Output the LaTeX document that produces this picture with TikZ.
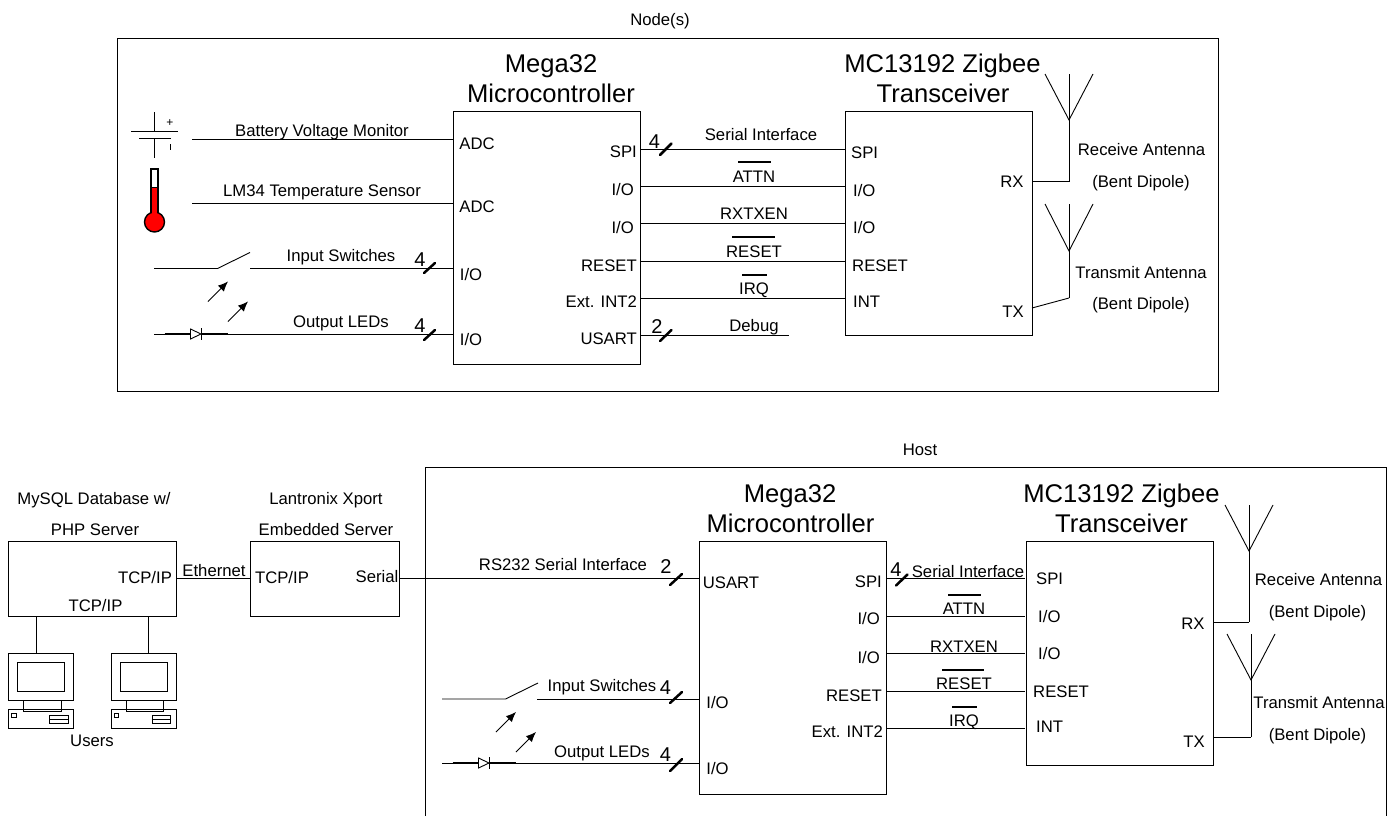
\documentclass[tikz,border=0pt]{standalone}
\usepackage{fontspec}
\setmainfont{Liberation Sans}
\usetikzlibrary{arrows.meta}
\tikzset{
  x=1pt,y=-1pt,
  wire/.style={line width=0.9pt,draw=black},
  box/.style={wire,fill=none},
  lab/.style={inner sep=0pt,yshift=-1.5pt,font=\fontsize{16.7}{18}\selectfont,text height=12pt,text depth=3.4pt},
  big/.style={inner sep=0pt,font=\fontsize{25.6}{28}\selectfont,text height=18.5pt,text depth=5pt},
  num/.style={inner sep=0pt,font=\fontsize{20}{22}\selectfont},
  slash/.style={line width=2.5pt,line cap=round},
  thick wire/.style={line width=1.4pt},
  lightarrow/.style={line width=0.9pt,-{Latex[length=10pt,width=8.5pt]}},
}
\newcommand{\rect}[5]{\node[box,draw,minimum width=#4 pt-#2 pt,minimum height=#5 pt-#3 pt,inner sep=0pt,anchor=north west] (#1) at (#2,#3) {};}
\newcommand{\wireto}[5]{\coordinate (#1a) at (#2,#3); \coordinate (#1b) at (#4,#5); \draw[wire] (#1a) -- (#1b);}
\newcommand{\slashmark}[5]{\coordinate (#1a) at (#2,#3); \coordinate (#1b) at (#4,#5); \draw[slash] (#1a) -- (#1b);}
\newcommand{\overbar}[4]{\coordinate (#1a) at (#2,#4); \coordinate (#1b) at (#3,#4); \draw[wire,line width=1.1pt] (#1a) -- (#1b);}
% switch + led group: origin x, switch y, led y
\newcommand{\swled}[4]{%
  \begin{scope}[shift={(#2,#3)}]
  \coordinate (#1s0) at (0,0); \coordinate (#1s1) at (63.5,0); \coordinate (#1s2) at (96,-16); 
  \draw[wire] (#1s0) -- (#1s1) -- (#1s2);
  \coordinate (#1ar1a) at (54,33); \coordinate (#1ar1b) at (74,13);
  \coordinate (#1ar2a) at (74,53); \coordinate (#1ar2b) at (94,33);
  \draw[lightarrow] (#1ar1a) -- (#1ar1b);
  \draw[lightarrow] (#1ar2a) -- (#1ar2b);
  \end{scope}
  \begin{scope}[shift={(#2,#4)}]
  \coordinate (#1l0) at (0,0); \coordinate (#1l1) at (10.5,0); \coordinate (#1l2) at (36.5,0);
  \coordinate (#1l3) at (47.5,0); \coordinate (#1l4) at (73.5,0);
  \draw[wire] (#1l0) -- (#1l1);
  \draw[thick wire] (#1l1) -- (#1l2);
  \draw[thick wire] (#1l3) -- (#1l4);
  \draw[wire,fill=white] (36.5,-5) -- (47,0) -- (36.5,5) -- cycle;
  \draw[wire] (47.5,-6) -- (47.5,6);
  \end{scope}}
% antenna: name, x, top y, apex y, bottom y
\newcommand{\antenna}[5]{%
  \coordinate (#1top) at (#2,#3); \coordinate (#1apex) at (#2,#4); \coordinate (#1bot) at (#2,#5);
  \coordinate (#1l) at (#2-24,#3); \coordinate (#1r) at (#2+24,#3);
  \draw[wire] (#1l) -- (#1apex) -- (#1r);
  \draw[wire] (#1top) -- (#1bot);}
% PC: name, x offset
\newcommand{\pc}[2]{%
  \begin{scope}[shift={(#2,0)}]
  \rect{#1mon}{8}{653}{73}{699.5}
  \rect{#1scr}{17}{662}{64}{690.5}
  \rect{#1neck}{23}{699.5}{60.5}{711}
  \rect{#1base}{8}{709}{73}{728}
  \rect{#1led}{11}{713}{15.5}{717}
  \rect{#1drv}{49}{714.5}{67.5}{722.5}
  \draw[wire] (#1drv.west) -- (#1drv.east);
  \end{scope}}
\begin{document}
\begin{tikzpicture}
\useasboundingbox (0,0) rectangle (1396,816);
% ---------- NODE ----------
\rect{nodeframe}{117}{38}{1218}{391}
\node[lab] (nodetitle) at (660,19.5) {Node(s)};
\rect{megaA}{453}{111}{640}{364}
\rect{mcA}{845}{111}{1032}{335}
\node[big] (megaAa) at (551,65.5) {Mega32};
\node[big] (megaAb) at (551,96) {Microcontroller};
\node[big] (mcAa) at (942.5,65.5) {MC13192 Zigbee};
\node[big] (mcAb) at (943,96) {Transceiver};
% battery
\coordinate (bt1) at (154.5,112); \coordinate (bt2) at (154.5,131);
\coordinate (bt3) at (154.5,138); \coordinate (bt4) at (154.5,158);
\coordinate (bp1) at (131,131); \coordinate (bp2) at (178,131);
\coordinate (bp3) at (139,138); \coordinate (bp4) at (171,138);
\draw[wire] (bt1) -- (bt2); \draw[wire] (bt3) -- (bt4);
\draw[wire] (bp1) -- (bp2); \draw[wire] (bp3) -- (bp4);
\node[inner sep=0pt,font=\fontsize{12}{12}\selectfont] (bplus) at (170,123) {+};
\coordinate (bm1) at (170,144); \coordinate (bm2) at (170,150);
\draw[wire] (bm1) -- (bm2);
% thermometer
\fill[red] (151,187) rectangle (158,215);
\draw[wire,line width=1.4pt] (151,215) -- (151,169) -- (158,169) -- (158,215);
\draw[wire,line width=1.4pt,fill=red] (154.5,222) circle (10);
\fill[red] (152,210) rectangle (157,216);
\draw[wire] (151,187) -- (158,187);
% signals
\wireto{w1}{192}{139.6}{453}{139.6}
\wireto{w2}{192}{203}{453}{203}
\node[lab] (l1) at (322,131) {Battery Voltage Monitor};
\node[lab] (l2) at (322,191) {LM34 Temperature Sensor};
\swled{A}{154}{268.5}{334}
\wireto{w3}{250}{268.5}{453}{268.5}
\wireto{w4}{228}{334}{453}{334}
\node[lab] (l3) at (341,256) {Input Switches};
\node[lab] (l4) at (341,322) {Output LEDs};
\node[num] (n1) at (420,260) {4};
\node[num] (n2) at (420,326) {4};
\slashmark{s1}{424}{273}{435}{263}
\slashmark{s2}{424}{340}{435}{330}
\node[lab] (pa1) at (477,144) {ADC};
\node[lab] (pa2) at (477,207) {ADC};
\node[lab] (pa3) at (471,275) {I/O};
\node[lab] (pa4) at (471,340) {I/O};
\node[lab,anchor=east] (pb1) at (637,152) {SPI};
\node[lab,anchor=east] (pb2) at (634,190) {I/O};
\node[lab,anchor=east] (pb3) at (634,228) {I/O};
\node[lab,anchor=east] (pb4) at (637,266) {RESET};
\node[lab,anchor=east] (pb5) at (637,302) {Ext. INT2};
\node[lab,anchor=east] (pb6) at (637,339) {USART};
\wireto{x1}{640}{149}{845}{149}
\wireto{x2}{640}{186}{845}{186}
\wireto{x3}{640}{223}{845}{223}
\wireto{x4}{640}{261}{845}{261}
\wireto{x5}{640}{298}{845}{298}
\wireto{x6}{640}{335}{789}{335}
\slashmark{s3}{660}{155}{671.5}{143.5}
\slashmark{s4}{660}{341}{671.5}{330}
\node[num] (n3) at (654.5,141.5) {4};
\node[num] (n4) at (657,326.5) {2};
\node[lab] (t1) at (761,135) {Serial Interface};
\node[lab] (t2) at (754,177) {ATTN};
\overbar{o1}{738}{771}{162}
\node[lab] (t3) at (754,214) {RXTXEN};
\node[lab] (t4) at (754,252) {RESET};
\overbar{o2}{732}{775}{237}
\node[lab] (t5) at (754,289) {IRQ};
\overbar{o3}{742}{767}{275}
\node[lab] (t6) at (754,326) {Debug};
\node[lab,anchor=west] (pc1) at (851,153) {SPI};
\node[lab,anchor=west] (pc2) at (853,191) {I/O};
\node[lab,anchor=west] (pc3) at (853,228) {I/O};
\node[lab,anchor=west] (pc4) at (852,266) {RESET};
\node[lab,anchor=west] (pc5) at (853,302) {INT};
\node[lab] (pd1) at (1012,182) {RX};
\node[lab] (pd2) at (1013,312) {TX};
\antenna{antA}{1069}{74}{120}{181.7}
\antenna{antB}{1069}{204}{251}{298}
\coordinate (rxA) at (1032,181.7); \coordinate (txA) at (1032,308);
\draw[wire] (antAbot) -- (rxA);
\draw[wire] (antBbot) -- (txA);
\node[lab] (a1) at (1141.5,150) {Receive Antenna};
\node[lab] (a2) at (1141,182) {(Bent Dipole)};
\node[lab] (a3) at (1141,273) {Transmit Antenna};
\node[lab] (a4) at (1141,304) {(Bent Dipole)};
% ---------- HOST ----------
\node[lab] (hosttitle) at (920,449.5) {Host};
\coordinate (hf1) at (425,816); \coordinate (hf2) at (425,467); \coordinate (hf3) at (1386,467); \coordinate (hf4) at (1386,816);
\draw[wire] (hf1) -- (hf2) -- (hf3) -- (hf4);
\rect{megaB}{699}{541}{886}{794}
\rect{mcB}{1026}{541}{1213}{765}
\node[big] (megaBa) at (790,495.5) {Mega32};
\node[big] (megaBb) at (790.5,526) {Microcontroller};
\node[big] (mcBa) at (1121.5,495.5) {MC13192 Zigbee};
\node[big] (mcBb) at (1121.5,526) {Transceiver};
\wireto{y1}{886}{578}{1024.5}{578}
\wireto{y2}{886}{616}{1024.5}{616}
\wireto{y3}{886}{653}{1024.5}{653}
\wireto{y4}{886}{691}{1024.5}{691}
\wireto{y5}{886}{728}{1024.5}{728}
\slashmark{s5}{896}{585.5}{907.5}{574.5}
\node[num] (n5) at (896,570) {4};
\node[lab] (u1) at (968,572) {Serial Interface};
\node[lab] (u2) at (964,609) {ATTN};
\overbar{o4}{948}{981}{595}
\node[lab] (u3) at (964,647) {RXTXEN};
\node[lab] (u4) at (964,684) {RESET};
\overbar{o5}{942}{984}{670}
\node[lab] (u5) at (964,721) {IRQ};
\overbar{o6}{952}{977}{707}
\node[lab,anchor=east] (qa1) at (882,582) {SPI};
\node[lab,anchor=east] (qa2) at (880,619) {I/O};
\node[lab,anchor=east] (qa3) at (880,658) {I/O};
\node[lab,anchor=east] (qa4) at (882,696) {RESET};
\node[lab,anchor=east] (qa5) at (883,732) {Ext. INT2};
\node[lab,anchor=west] (qb1) at (1036,579) {SPI};
\node[lab,anchor=west] (qb2) at (1038,617) {I/O};
\node[lab,anchor=west] (qb3) at (1038,654) {I/O};
\node[lab,anchor=west] (qb4) at (1033,692) {RESET};
\node[lab,anchor=west] (qb5) at (1036,727) {INT};
\node[lab] (qc1) at (1193,624) {RX};
\node[lab] (qc2) at (1194,741.5) {TX};
\antenna{antC}{1249}{505}{551}{622}
\antenna{antD}{1251}{634}{680}{737}
\coordinate (rxB) at (1213,622); \coordinate (txB) at (1213,737);
\draw[wire] (antCbot) -- (rxB);
\draw[wire] (antDbot) -- (txB);
\node[lab] (b1) at (1318.5,580) {Receive Antenna};
\node[lab] (b2) at (1317.5,612) {(Bent Dipole)};
\node[lab] (b3) at (1319,703) {Transmit Antenna};
\node[lab] (b4) at (1317.5,735) {(Bent Dipole)};
\swled{B}{442}{699}{763}
\wireto{w5}{537}{699}{699}{699}
\wireto{w6}{516}{763}{699}{763}
\node[lab] (l5) at (602,686) {Input Switches};
\node[lab] (l6) at (602,752) {Output LEDs};
\node[num] (n6) at (665.5,688) {4};
\node[num] (n7) at (665.5,755) {4};
\slashmark{s6}{670}{703}{682}{692}
\slashmark{s7}{670}{771}{682}{759}
\node[lab] (ra1) at (717.5,703) {I/O};
\node[lab] (ra2) at (717.5,769) {I/O};
\node[lab] (ra3) at (731,583) {USART};
% ---------- left ----------
\node[lab] (srvA) at (94,499) {MySQL Database w/};
\node[lab] (srvB) at (95,530) {PHP Server};
\node[lab] (xpA) at (326,499) {Lantronix Xport};
\node[lab] (xpB) at (326,530) {Embedded Server};
\rect{server}{8}{541}{176}{616}
\rect{xport}{250}{541}{399}{616}
\coordinate (srvE) at (176,578); \coordinate (xpW) at (250,578);
\draw[wire] (srvE) -- (xpW);
\coordinate (xpE) at (399,578); \coordinate (megaBw) at (699,578);
\draw[wire] (xpE) -- (megaBw);
\node[lab] (v1) at (145,578) {TCP/IP};
\node[lab] (v2) at (95.5,606) {TCP/IP};
\node[lab] (v3) at (214,570.5) {Ethernet};
\node[lab] (v4) at (282,578) {TCP/IP};
\node[lab] (v5) at (377,577) {Serial};
\node[lab] (v6) at (563,565) {RS232 Serial Interface};
\node[num] (n8) at (666,567) {2};
\slashmark{s8}{670}{585}{682}{574}
\pc{pcA}{0}
\pc{pcB}{102.5}
\coordinate (c1) at (36,616); \coordinate (c2) at (36,653);
\coordinate (c3) at (148,616); \coordinate (c4) at (148,653);
\draw[wire] (c1) -- (c2);
\draw[wire] (c3) -- (c4);
\node[lab] (users) at (92,741) {Users};
\end{tikzpicture}
\end{document}
